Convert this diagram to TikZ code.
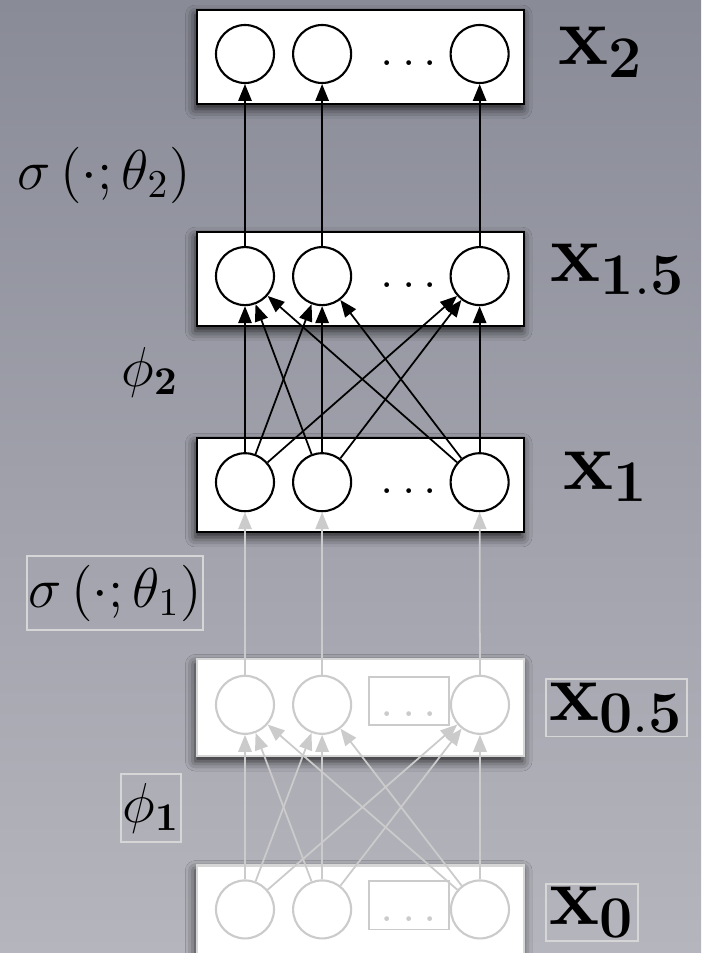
\RequirePackage{fix-cm}
\documentclass[tikz,border=0pt]{standalone}
\usepackage{amsmath,amssymb}
\usepackage{tikz}
\usetikzlibrary{arrows.meta,positioning,shadows.blur}
\usepackage{xcolor}
\definecolor{bgtop}{HTML}{898B97}
\definecolor{bgbottom}{HTML}{B5B5BD}
\definecolor{faded}{HTML}{CBCBCB}
\definecolor{fadedbox}{HTML}{D6D6D6}
\tikzset{
  layer/.style={draw=black,fill=white,line width=0.6pt,inner sep=0pt,
                minimum width=3.27cm,minimum height=0.94cm,
                blur shadow={shadow xshift=-0.5pt,shadow yshift=-1.4pt,
                             shadow blur radius=2.8pt,shadow opacity=80}},
  fadedlayer/.style={layer,draw=fadedbox},
  unit/.style={circle,draw=black,fill=white,line width=0.6pt,inner sep=0pt,
               minimum size=0.58cm},
  fadedunit/.style={unit,draw=faded},
  dotsbox/.style={font=\fontsize{14}{16}\selectfont,inner sep=1pt,
                  minimum width=0.8cm,text height=10.3pt,text depth=1.4pt},
  fadeddots/.style={dotsbox,draw=faded,text=faded,line width=0.5pt},
  arrow/.style={-{Triangle[length=4.8pt,width=3.8pt]},line width=0.5pt,draw=black},
  fadedarrow/.style={arrow,draw=faded},
  layerlabel/.style={font=\fontsize{24}{28}\selectfont,inner sep=1pt},
  maplabel/.style={font=\fontsize{16}{19}\selectfont,inner xsep=0.5pt,inner ysep=2.5pt},
  fadedlabel/.style={draw=fadedbox,line width=0.5pt}
}

\begin{document}
\begin{tikzpicture}
  \shade[top color=bgtop,bottom color=bgbottom] (0,0) rectangle (7.01,-9.53);
  \useasboundingbox (0,0) rectangle (7.01,-9.53);

  % layers, top to bottom
  \node[layer] (xtwo) at (3.605,-0.57) {};
  \node[layer,below=1.26cm of xtwo] (xonefive) {};
  \node[layer,below=1.10cm of xonefive] (xone) {};
  \node[fadedlayer,minimum height=0.97cm,below=1.25cm of xone] (xhalf) {};
  \node[fadedlayer,below=1.07cm of xhalf] (xzero) {};

  % units of x2
  \node[unit] (xtwoa) at ([xshift=-1.155cm,yshift=0.03cm]xtwo.center) {};
  \node[unit,right=0.17cm of xtwoa] (xtwob) {};
  \node[dotsbox,right=0.16cm of xtwob,yshift=0.04cm] (xtwodots) {$\ldots$};
  \node[unit,right=0cm of xtwodots,yshift=-0.04cm] (xtwoc) {};

  % units of x1.5
  \node[unit] (xonefivea) at ([xshift=-1.155cm,yshift=0.03cm]xonefive.center) {};
  \node[unit,right=0.17cm of xonefivea] (xonefiveb) {};
  \node[dotsbox,right=0.16cm of xonefiveb,yshift=0.04cm] (xonefivedots) {$\ldots$};
  \node[unit,right=0cm of xonefivedots,yshift=-0.04cm] (xonefivec) {};

  % units of x1
  \node[unit] (xonea) at ([xshift=-1.155cm,yshift=0.03cm]xone.center) {};
  \node[unit,right=0.17cm of xonea] (xoneb) {};
  \node[dotsbox,right=0.16cm of xoneb,yshift=0.04cm] (xonedots) {$\ldots$};
  \node[unit,right=0cm of xonedots,yshift=-0.04cm] (xonec) {};

  % units of x0.5
  \node[fadedunit] (xhalfa) at ([xshift=-1.155cm,yshift=0.03cm]xhalf.center) {};
  \node[fadedunit,right=0.17cm of xhalfa] (xhalfb) {};
  \node[fadeddots,right=0.16cm of xhalfb,yshift=0.04cm] (xhalfdots) {$\ldots$};
  \node[fadedunit,right=0cm of xhalfdots,yshift=-0.04cm] (xhalfc) {};

  % units of x0
  \node[fadedunit] (xzeroa) at ([xshift=-1.155cm,yshift=0.03cm]xzero.center) {};
  \node[fadedunit,right=0.17cm of xzeroa] (xzerob) {};
  \node[fadeddots,right=0.16cm of xzerob,yshift=0.04cm] (xzerodots) {$\ldots$};
  \node[fadedunit,right=0cm of xzerodots,yshift=-0.04cm] (xzeroc) {};

  % layer names
  \node[layerlabel,right=0.29cm of xtwo,yshift=0.045cm] (xtwolabel) {$\mathbf{x_2}$};
  \node[layerlabel,right=0.215cm of xonefive,yshift=0.10cm] (xonefivelabel) {$\mathbf{x_{1.5}}$};
  \node[layerlabel,right=0.34cm of xone,yshift=0.085cm] (xonelabel) {$\mathbf{x_1}$};
  \node[layerlabel,fadedlabel,right=0.2cm of xhalf] (xhalflabel) {$\mathbf{x_{0.5}}$};
  \node[layerlabel,fadedlabel,right=0.2cm of xzero] (xzerolabel) {$\mathbf{x_0}$};

  % maps
  \node[maplabel] (sigmatwo) at (1.04,-1.75) {$\sigma\left(\cdot;\theta_2\right)$};
  \node[maplabel] (phitwo) at (1.50,-3.72) {$\phi_{\mathbf{2}}$};
  \node[maplabel,fadedlabel] (sigmaone) at (1.15,-5.93) {$\sigma\left(\cdot;\theta_1\right)$};
  \node[maplabel,fadedlabel] (phione) at (1.51,-8.08) {$\phi_{\mathbf{1}}$};

  % x1.5 -> x2
  \draw[arrow] (xonefivea)--(xtwoa);
  \draw[arrow] (xonefiveb)--(xtwob);
  \draw[arrow] (xonefivec)--(xtwoc);

  % x1 -> x1.5
  \draw[arrow] (xonea)--(xonefivea); \draw[arrow] (xonea)--(xonefiveb); \draw[arrow] (xonea)--(xonefivec);
  \draw[arrow] (xoneb)--(xonefivea); \draw[arrow] (xoneb)--(xonefiveb); \draw[arrow] (xoneb)--(xonefivec);
  \draw[arrow] (xonec)--(xonefivea); \draw[arrow] (xonec)--(xonefiveb); \draw[arrow] (xonec)--(xonefivec);

  % x0.5 -> x1
  \draw[fadedarrow] (xhalfa)--(xonea);
  \draw[fadedarrow] (xhalfb)--(xoneb);
  \draw[fadedarrow] (xhalfc)--(xonec);

  % x0 -> x0.5
  \draw[fadedarrow] (xzeroa)--(xhalfa); \draw[fadedarrow] (xzeroa)--(xhalfb); \draw[fadedarrow] (xzeroa)--(xhalfc);
  \draw[fadedarrow] (xzerob)--(xhalfa); \draw[fadedarrow] (xzerob)--(xhalfb); \draw[fadedarrow] (xzerob)--(xhalfc);
  \draw[fadedarrow] (xzeroc)--(xhalfa); \draw[fadedarrow] (xzeroc)--(xhalfb); \draw[fadedarrow] (xzeroc)--(xhalfc);
\end{tikzpicture}
\end{document}
